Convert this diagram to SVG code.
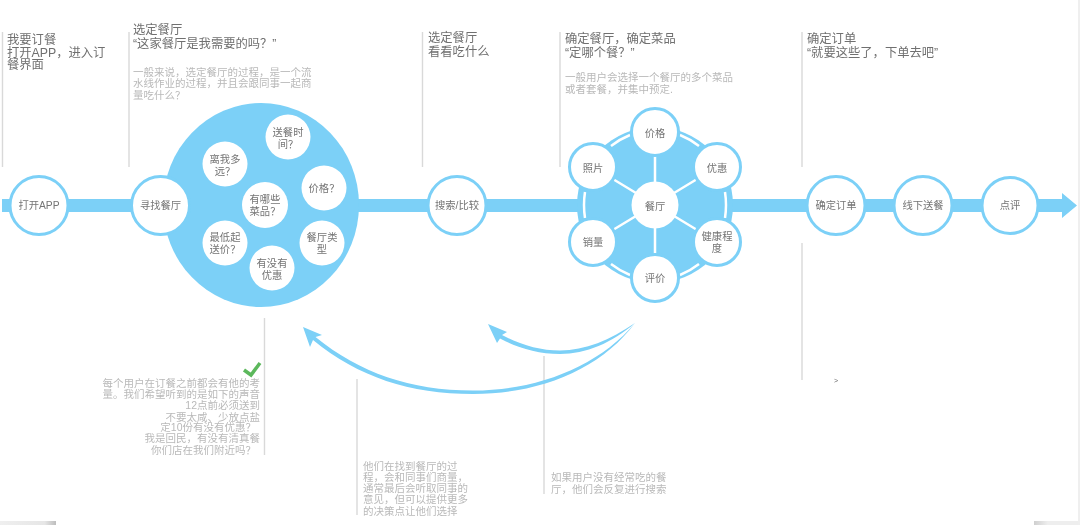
<svg xmlns="http://www.w3.org/2000/svg" width="1080" height="525" viewBox="0 0 1080 525">
<defs>
<style>
text{font-family:"Liberation Sans","Noto Sans CJK SC",sans-serif}
.h{font-size:12.300px;fill:#6f6f6f}
.d{font-size:10.500px;fill:#b9b9b9}
.e{text-anchor:end}
.n{font-size:10.300px;fill:#747474;text-anchor:middle}
.g{stroke:#d9d9d9;stroke-width:1.400;fill:none}
.ring{fill:#fff;stroke:#7bd0f7;stroke-width:3}
.w{fill:#fff}
.b{fill:#7bd0f7}
.s{stroke:#fff;stroke-width:2.500;fill:none}
</style>
<linearGradient id="lg" x1="0" x2="1" y1="0" y2="0"><stop offset="0" stop-color="#efefef"/><stop offset=".8" stop-color="#e6e6e6"/><stop offset="1" stop-color="#bdbdbd"/></linearGradient>
<linearGradient id="rg" x1="0" x2="1" y1="0" y2="0"><stop offset="0" stop-color="#cfcfcf"/><stop offset=".3" stop-color="#eeeeee"/><stop offset="1" stop-color="#eeeeee"/></linearGradient>
<filter id="soft" x="0" y="0" width="100%" height="100%"><feGaussianBlur stdDeviation="0.3"/></filter>
</defs>
<rect width="1080" height="525" fill="#fff"/>
<g filter="url(#soft)">
<rect x="0" y="521" width="56" height="4" fill="url(#lg)"/>
<rect x="1034" y="521" width="46" height="4" fill="url(#rg)"/>
<rect x="1078" y="0" width="2" height="525" fill="#efefef"/>
<g id="guides">
<path class="g" d="M2.500 32V167M129 32V167M422.500 32V167M560 32V167M802 32V167M802 243V380M264.500 318V455M357 379V515M544 356V494"/>
</g>
<g id="connectors">
<path class="b" d="M2 199H1062V193L1077 205.500 1062 218V212H2Z"/>
<path class="b" d="M635 323C601 369 540 394 473 394C410 394 358 377 313 340L310 347 303 327 322 335 315.500 337C360 373 410 390.500 473 390.500C538 390.500 599 366 635 323Z"/>
<path class="b" d="M635 323C612 343 586 354 560 354C538 354 518 348 500 338.500L497 343 488 324 507 332 502 335C521 345 540 350.500 560 350.500C585 350.500 610 340 635 323Z"/>
</g>
<g id="labels">
<text class="h"><tspan x="7" y="44">我要订餐</tspan><tspan x="7" y="57">打开APP，进入订</tspan><tspan x="7" y="69">餐界面</tspan></text>
<text class="h"><tspan x="133" y="34">选定餐厅</tspan><tspan x="133" y="48">“这家餐厅是我需要的吗？”</tspan></text>
<text class="d"><tspan x="133" y="76">一般来说，选定餐厅的过程，是一个流</tspan><tspan x="133" y="87">水线作业的过程，并且会跟同事一起商</tspan><tspan x="133" y="99">量吃什么？</tspan></text>
<text class="h"><tspan x="428" y="42">选定餐厅</tspan><tspan x="428" y="56">看看吃什么</tspan></text>
<text class="h"><tspan x="565" y="43">确定餐厅，确定菜品</tspan><tspan x="565" y="57">“定哪个餐？”</tspan></text>
<text class="d"><tspan x="565" y="81">一般用户会选择一个餐厅的多个菜品</tspan><tspan x="565" y="93">或者套餐，并集中预定.</tspan></text>
<text class="h"><tspan x="807" y="43">确定订单</tspan><tspan x="807" y="57">“就要这些了，下单去吧”</tspan></text>
<text class="d e"><tspan x="260" y="387">每个用户在订餐之前都会有他的考</tspan><tspan x="260" y="398">量。我们希望听到的是如下的声音</tspan><tspan x="260" y="409">12点前必须送到</tspan><tspan x="260" y="421">不要太咸、少放点盐</tspan><tspan x="256" y="431">定10份有没有优惠？</tspan><tspan x="260" y="442">我是回民，有没有清真餐</tspan><tspan x="256" y="454">你们店在我们附近吗？</tspan></text>
<text class="d"><tspan x="363" y="470">他们在找到餐厅的过</tspan><tspan x="363" y="481">程，会和同事们商量，</tspan><tspan x="363" y="492">通常最后会听取同事的</tspan><tspan x="363" y="503">意见，但可以提供更多</tspan><tspan x="363" y="515">的决策点让他们选择</tspan></text>
<text class="d"><tspan x="551" y="481">如果用户没有经常吃的餐</tspan><tspan x="551" y="493">厅，他们会反复进行搜索</tspan></text>
<text x="834" y="383" font-size="7" fill="#666">&gt;</text>
</g>
<g id="check"><path d="M244 370L251 375 260 363" fill="none" stroke="#5cb85c" stroke-width="3.500"/></g>
<g id="cluster-a"><ellipse class="b" cx="261" cy="205" rx="98" ry="102"/></g>
<g id="cluster-b"><circle class="b" cx="655" cy="205" r="78"/>
<path class="s" d="M655 132V278M593 167L717 242M717 167L593 242M611 146Q620 139 630 135M680 135Q690 139 699 146M725 192Q727 205 725 218M585 192Q583 205 585 218M699 264Q690 271 680 275M630 275Q620 271 611 264"/></g>
<g id="node-open"><circle class="ring" cx="39" cy="205.500" r="29"/><text class="n" x="39" y="209">打开APP</text></g>
<g id="node-find"><circle class="ring" cx="160.500" cy="205.500" r="29"/><text class="n" x="160.500" y="209">寻找餐厅</text></g>
<g id="q-time"><circle class="w" cx="288" cy="137" r="22.500"/><text class="n"><tspan x="288" y="136">送餐时</tspan><tspan x="288" y="148">间？</tspan></text></g>
<g id="q-far"><circle class="w" cx="225" cy="164" r="22.500"/><text class="n"><tspan x="225" y="163">离我多</tspan><tspan x="225" y="175">远？</tspan></text></g>
<g id="q-price"><circle class="w" cx="324" cy="188" r="22.500"/><text class="n" x="324" y="192">价格？</text></g>
<g id="q-dish"><circle class="w" cx="265" cy="205" r="23"/><text class="n"><tspan x="265" y="203">有哪些</tspan><tspan x="265" y="215">菜品？</tspan></text></g>
<g id="q-min"><circle class="w" cx="225" cy="243" r="22.500"/><text class="n"><tspan x="225" y="241">最低起</tspan><tspan x="225" y="253">送价？</tspan></text></g>
<g id="q-type"><circle class="w" cx="322" cy="243" r="22.500"/><text class="n"><tspan x="322" y="241">餐厅类</tspan><tspan x="322" y="253">型</tspan></text></g>
<g id="q-deal"><circle class="w" cx="272" cy="268" r="22.500"/><text class="n"><tspan x="272" y="267">有没有</tspan><tspan x="272" y="279">优惠</tspan></text></g>
<g id="node-search"><circle class="ring" cx="457" cy="205.500" r="29"/><text class="n" x="457" y="209">搜索/比较</text></g>
<g id="f-price"><circle class="ring" cx="655" cy="132" r="23.500"/><text class="n" x="655" y="137">价格</text></g>
<g id="f-deal"><circle class="ring" cx="717" cy="167" r="23.500"/><text class="n" x="717" y="172">优惠</text></g>
<g id="f-health"><circle class="ring" cx="717" cy="242" r="23.500"/><text class="n"><tspan x="717" y="240">健康程</tspan><tspan x="717" y="252">度</tspan></text></g>
<g id="f-review"><circle class="ring" cx="655" cy="278" r="23.500"/><text class="n" x="655" y="282">评价</text></g>
<g id="f-sales"><circle class="ring" cx="593" cy="242" r="23.500"/><text class="n" x="593" y="246">销量</text></g>
<g id="f-photo"><circle class="ring" cx="593" cy="167" r="23.500"/><text class="n" x="593" y="172">照片</text></g>
<g id="f-center"><circle class="w" cx="655" cy="205" r="23.500"/><text class="n" x="655" y="210">餐厅</text></g>
<g id="node-confirm"><circle class="ring" cx="836" cy="205.500" r="29"/><text class="n" x="836" y="209">确定订单</text></g>
<g id="node-deliver"><circle class="ring" cx="923" cy="205.500" r="29"/><text class="n" x="923" y="209">线下送餐</text></g>
<g id="node-rate"><circle class="ring" cx="1010" cy="205.500" r="28"/><text class="n" x="1010" y="209">点评</text></g>
</g>
</svg>
